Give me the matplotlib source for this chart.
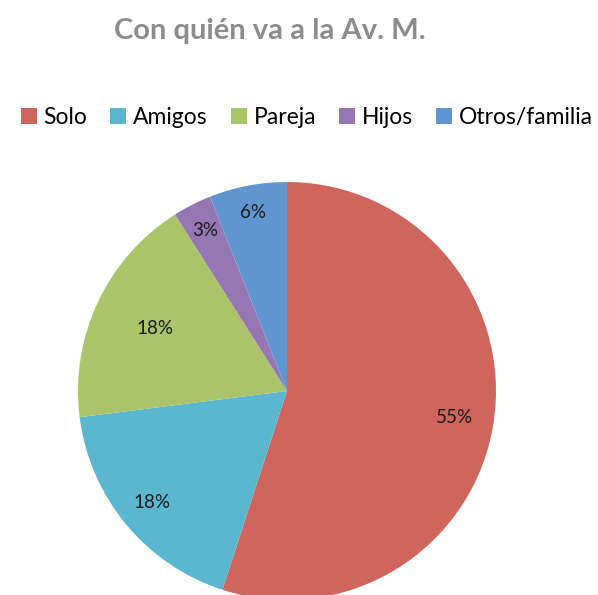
import numpy as np
import matplotlib.pyplot as plt
from matplotlib.patches import Patch

# data
categories = ["Solo", "Amigos", "Pareja", "Hijos", "Otros/familia"]
values = [55, 18, 18, 3, 6]
colors = ["#CF655D", "#5AB7CF", "#ABC46A", "#9677B4", "#5F96CF"]
title = "Con quién va a la Av. M."

# label distance from centre per slice (Excel puts them unevenly)
label_r = [0.81, 0.84, 0.70, 0.86, 0.87]

plt.rcParams["font.family"] = ["Lato", "DejaVu Sans"]

fig = plt.figure(figsize=(5.98, 5.95), dpi=100)
ax = fig.add_axes([0.1304, -0.0084, 0.699, 0.7025])

wedges, texts, autotexts = ax.pie(
    values, colors=colors, startangle=90, counterclock=False,
    autopct="%1.0f%%", pctdistance=0.8,
    wedgeprops=dict(linewidth=0),
    textprops=dict(fontsize=13.5, color="#1a1a1a"))

# move the percentage labels
for w, t, r in zip(wedges, autotexts, label_r):
    ang = np.deg2rad((w.theta1 + w.theta2) / 2)
    t.set_position((r * np.cos(ang), r * np.sin(ang)))

ax.set_xlim(-1, 1)
ax.set_ylim(-1, 1)
ax.set_aspect("equal")
for w in wedges:
    w.set_clip_on(False)

fig.text(0.452, 0.948, title, ha="center", va="center",
         fontsize=21, fontweight="bold", color="#8C8C8C")

handles = [Patch(facecolor=c, edgecolor="none") for c in colors]
fig.legend(handles, categories, loc="center", bbox_to_anchor=(0.513, 0.803),
           ncol=5, frameon=False, fontsize=16.5, handlelength=0.7,
           handleheight=0.7, handletextpad=0.3, columnspacing=1.0)

fig.savefig("out.png", dpi=100)
